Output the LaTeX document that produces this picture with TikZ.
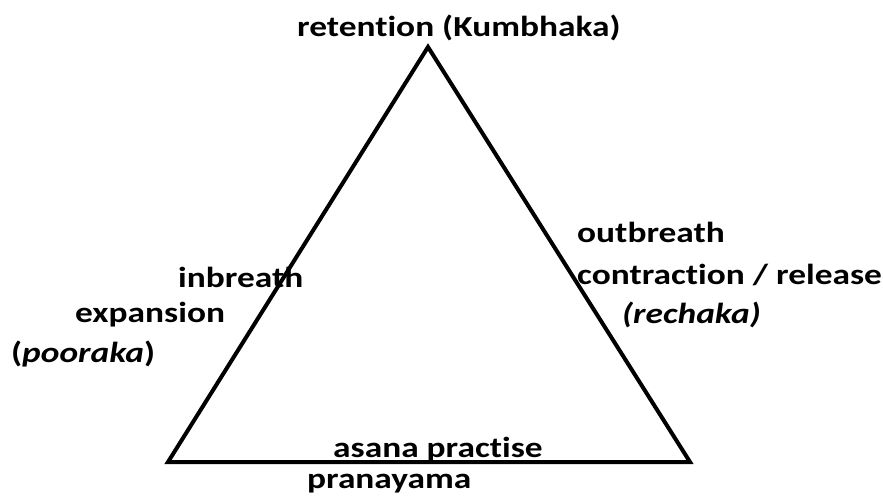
\documentclass[tikz,border=0pt]{standalone}
\usepackage{fontspec}
\setmainfont{Carlito}[FakeStretch=1.22,Ligatures=NoCommon]
\usetikzlibrary{positioning}

\begin{document}
\begin{tikzpicture}
          [ x=1pt, y=1pt,
            lbl/.style={
              inner sep=0pt,
              anchor=base west,
              font=\fontsize{29}{31}\selectfont\bfseries},
            edge/.style={
              draw,
              line width=4pt,
            },
          ]

          \useasboundingbox (0,0) rectangle (883,499);

          % corners of the triangle
          \coordinate (apex) at (428,452);
          \coordinate (left) at (168,37);
          \coordinate (right) at (690,37);

          \draw[edge] (apex) -- (right) -- (left) -- cycle;

          \node (top) [lbl] at (297,462) {retention (Kumbhaka)};

          \node (out) [lbl] at (577,257) {outbreath};
          \node (contr) [lbl] at (577,215) {contraction / release};
          \node (rech) [lbl] at (622,176) {\itshape (rechaka)};

          \node (in) [lbl] at (178,212) {inbreath};
          \node (exp) [lbl] at (75,177) {expansion};
          \node (poor) [lbl] at (11,137) {(\textit{pooraka})};

          \node (asana) [lbl] at (333,42) {asana practise};
          \node (prana) [lbl] at (307,11) {pranayama};

        \end{tikzpicture}
\end{document}
